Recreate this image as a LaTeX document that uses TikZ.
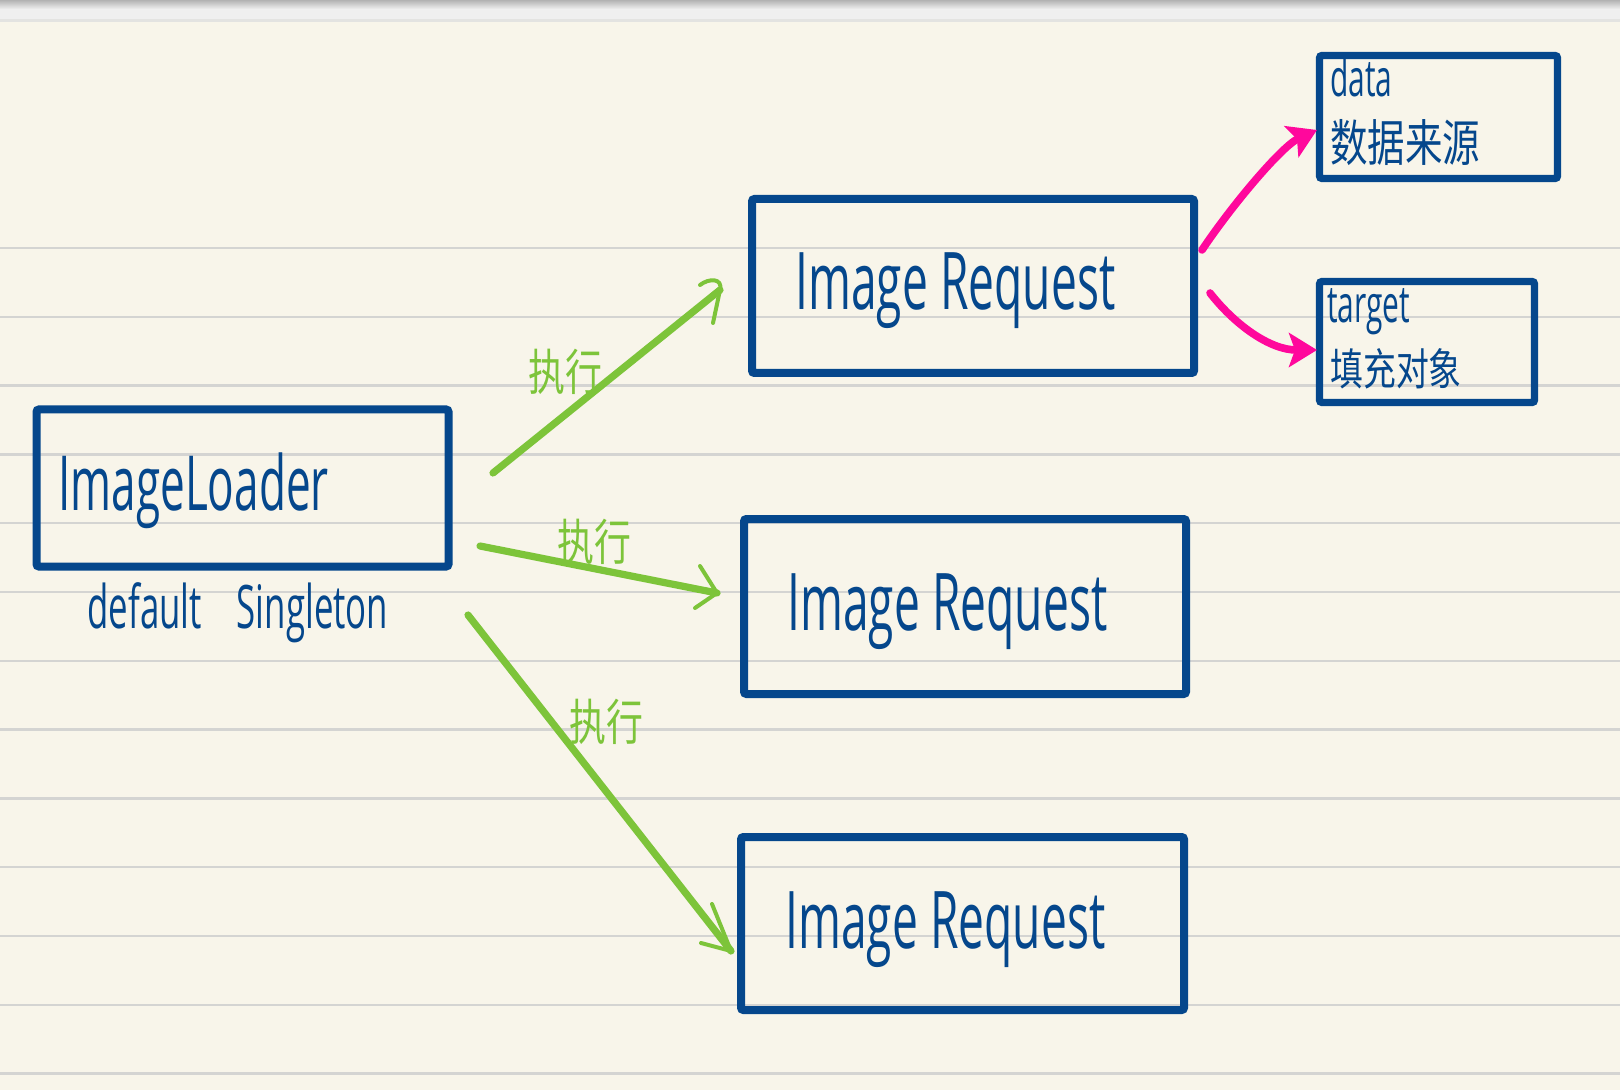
\documentclass[tikz,border=0pt]{standalone}
\usepackage{fontspec}
\newfontfamily\hand[FakeStretch=0.58]{Open Sans}
\newfontfamily\cjk[FakeStretch=0.75]{Noto Sans CJK SC}
\usetikzlibrary{arrows.meta}
\definecolor{bg}{HTML}{F8F5EA}
\definecolor{ink}{HTML}{05478C}
\definecolor{grn}{HTML}{7DC43A}
\definecolor{pnk}{HTML}{FF089C}
\definecolor{rulec}{HTML}{D4D4D2}
\definecolor{topdark}{HTML}{B2B2B2}
\definecolor{toplight}{HTML}{EFEFEF}
\definecolor{topline}{HTML}{E3E3E1}
\begin{document}
\begin{tikzpicture}[x=0.5pt,y=-0.5pt,
  box/.style={draw=ink, line width=4pt, inner sep=0pt, rounded corners=1.2pt},
  sbox/.style={draw=ink, line width=3.6pt, inner sep=0pt, rounded corners=1.2pt},
  hw/.style={inner sep=0pt, text=ink, anchor=base west},
  zh/.style={inner sep=0pt, anchor=center},
  ruleline/.style={draw=rulec, line width=1.2pt},
  gline/.style={draw=grn, line width=3.6pt, line cap=round},
  barb/.style={draw=grn, line width=2pt, line cap=round, line join=round},
  parrow/.style={draw=pnk, line width=3.8pt, line cap=round, -{Stealth[length=14pt,width=17pt,inset=3pt]}}]
% background
\fill[bg] (0,0) rectangle (1620,1090);
\useasboundingbox (0,0) rectangle (1620,1090);
\shade[top color=topdark, bottom color=toplight] (0,0) rectangle (1620,9);
\fill[toplight] (0,9) rectangle (1620,19);
\fill[topline] (0,19) rectangle (1620,22);
% ruled lines
\foreach \k in {0,...,12}
  \draw[ruleline] (0,{248+68.8*\k}) -- (1620,{248+68.8*\k});
% boxes
\node[box, minimum width=206pt, minimum height=78.5pt] (loader) at (242.5,488) {};
\node[box, minimum width=221pt, minimum height=87pt] (req1) at (973,286) {};
\node[box, minimum width=221pt, minimum height=87.5pt] (req2) at (965,606.5) {};
\node[box, minimum width=221.5pt, minimum height=86.5pt] (req3) at (962.5,923.5) {};
\node[sbox, minimum width=119pt, minimum height=61.5pt] (databox) at (1438.5,117) {};
\node[sbox, minimum width=107.5pt, minimum height=60.5pt] (targetbox) at (1427,342) {};
% texts
\node[hw, font={\hand\fontsize{38pt}{44pt}\selectfont}] (tloader) at (58,510) {ImageLoader};
\node[hw, font={\hand\fontsize{30pt}{36pt}\selectfont}] (tsingle) at (87,628) {default\hspace{13pt} Singleton};
\node[hw, font={\hand\fontsize{39.8pt}{46pt}\selectfont}] (treq1) at (795,310) {Image Request};
\node[hw, font={\hand\fontsize{39.8pt}{46pt}\selectfont}] (treq2) at (787,630) {Image Request};
\node[hw, font={\hand\fontsize{39.8pt}{46pt}\selectfont}] (treq3) at (785,948) {Image Request};
\node[hw, font={\hand\fontsize{25.8pt}{30pt}\selectfont}] (tdata) at (1330,97) {data};
\node[hw, font={\hand\fontsize{25.8pt}{30pt}\selectfont}] (ttarget) at (1327,323) {target};
\node[zh, text=ink, font={\cjk\fontsize{25pt}{30pt}\selectfont}] (tsrc) at (1405,143) {数据来源};
\node[zh, text=ink, font={\cjk\fontsize{21.9pt}{26pt}\selectfont}] (tfill) at (1396,369) {填充对象};
\node[zh, text=grn, font={\cjk\fontsize{24.6pt}{28pt}\selectfont}] (ex1) at (565,372) {执行};
\node[zh, text=grn, font={\cjk\fontsize{24.6pt}{28pt}\selectfont}] (ex2) at (594,542) {执行};
\node[zh, text=grn, font={\cjk\fontsize{24.6pt}{28pt}\selectfont}] (ex3) at (606,722) {执行};
% green connector ends
\coordinate (gs1) at (493,473);
\coordinate (ge1) at (720,290);
\coordinate (gs2) at (480,546);
\coordinate (ge2) at (717,593);
\coordinate (gs3) at (468,615);
\coordinate (ge3) at (731,951);
\draw[gline] (gs1) -- (ge1);
\draw[gline] (gs2) -- (ge2);
\draw[gline] (gs3) -- (ge3);
% open hand-drawn heads
\draw[barb] (700,285) .. controls (709,278) and (723,278) .. (ge1) -- (713,323);
\draw[barb] (700,566) -- (ge2) -- (695,608);
\draw[barb] (712,904) -- (ge3) -- (701,943);
% pink connectors
\coordinate (ps1) at (1202,250);
\coordinate (pe1) at (1317,130);
\coordinate (ps2) at (1210,293);
\coordinate (pe2) at (1317,350);
\draw[parrow] (ps1) .. controls (1232,205) and (1282,146) .. (pe1);
\draw[parrow] (ps2) .. controls (1235,325) and (1270,350) .. (pe2);
\end{tikzpicture}
\end{document}
